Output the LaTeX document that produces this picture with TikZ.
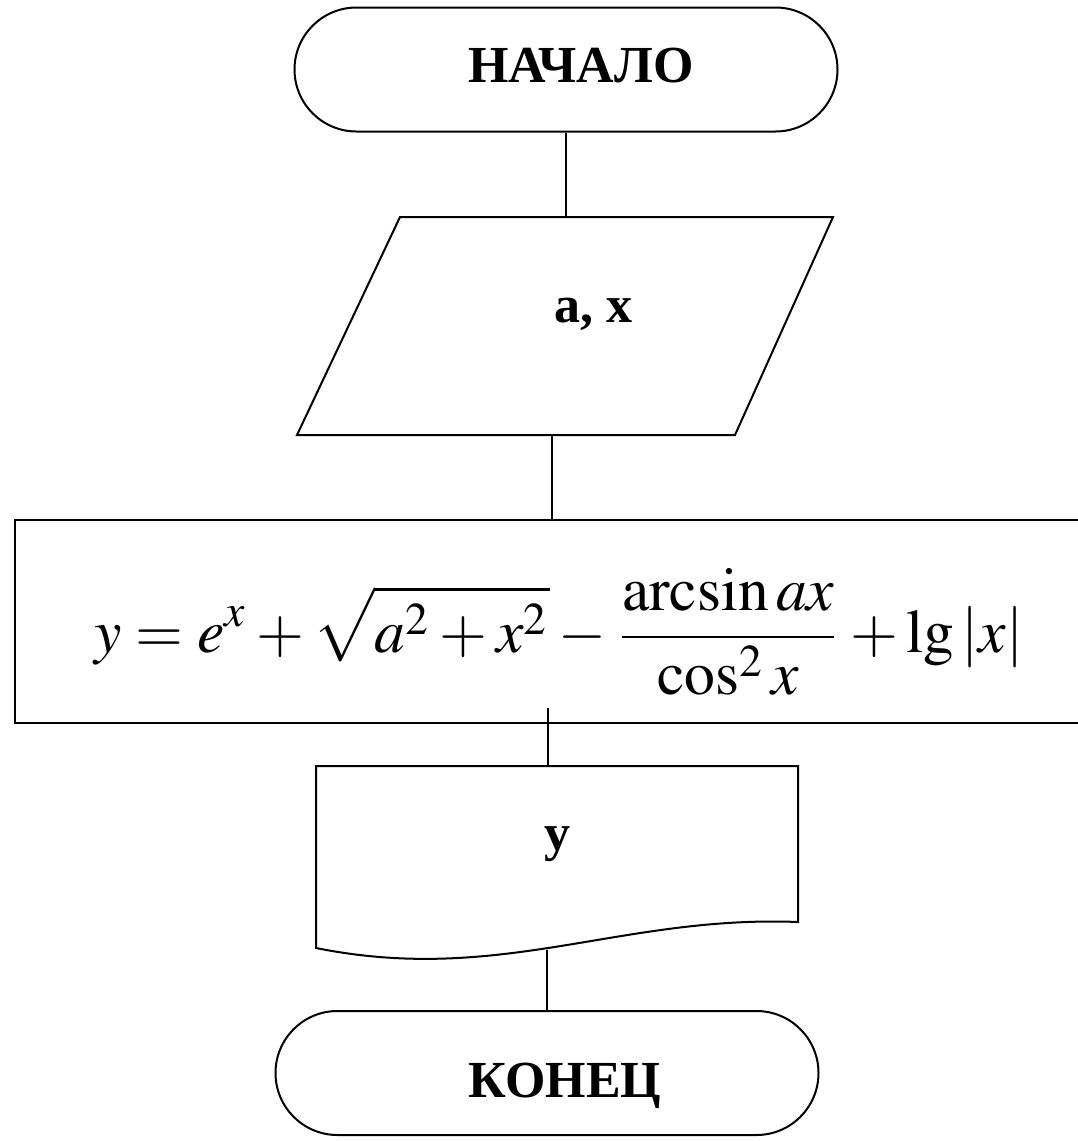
\documentclass[tikz,border=0pt]{standalone}
\usepackage{mathptmx}
\usepackage{fontspec}
\setmainfont{Liberation Serif}
\usepackage{graphicx}
\usetikzlibrary{shapes.misc}
\begin{document}
\begin{tikzpicture}[x=1pt,y=-1pt,
  outline/.style={draw=black,line width=2pt},
  term/.style={rounded rectangle,outline,minimum width=543pt,minimum height=124pt,inner sep=0pt},
  lbl/.style={font=\fontsize{52}{60}\selectfont\bfseries,inner sep=0pt,anchor=base},
  conn/.style={draw=black,line width=2pt}]
\useasboundingbox (0,0) rectangle (1077,1141);
\fill[white] (0,0) rectangle (1077,1141);

% start terminator
\node[term] (start) at (566,69.5) {};
\node[lbl] (startT) at (581,82) {НАЧАЛО};

% input parallelogram
\draw[outline,line join=miter] (400,217) -- (833,217) -- (735,435) -- (297,435) -- cycle;
\coordinate (ioT) at (566,217);
\coordinate (ioB) at (552,435);
\node[lbl] (ioL) at (593,322) {a, x};

% process rectangle
\node[outline,minimum width=1085pt,minimum height=203pt,inner sep=0pt] (calc) at (557.5,621.5) {};
\coordinate (calcT) at (552,520);
\coordinate (calcB) at (548,708);
\node[inner sep=0pt] (formula) at (559,632)
  {\resizebox{928pt}{!}{$\displaystyle y=e^{x}+\sqrt{a^{2}+x^{2}}-\frac{\arcsin ax}{\cos^{2}x}+\lg\left|x\right|$}};

% output document
\draw[outline,line join=miter] (316,766) -- (798,766) -- (798,922)
  .. controls (620,915) and (500,985) .. (316,948) -- cycle;
\coordinate (docT) at (548,766);
\coordinate (docB) at (547,950);
\node[lbl] (docL) at (557,850) {y};

% end terminator
\node[term] (end) at (547,1073) {};
\node[lbl] (endT) at (565,1097) {КОНЕЦ};

% connectors
\draw[conn] (start.south) -- (ioT);
\draw[conn] (ioB) -- (calcT);
\draw[conn] (calcB) -- (docT);
\draw[conn] (docB) -- (end.north);
\end{tikzpicture}
\end{document}
